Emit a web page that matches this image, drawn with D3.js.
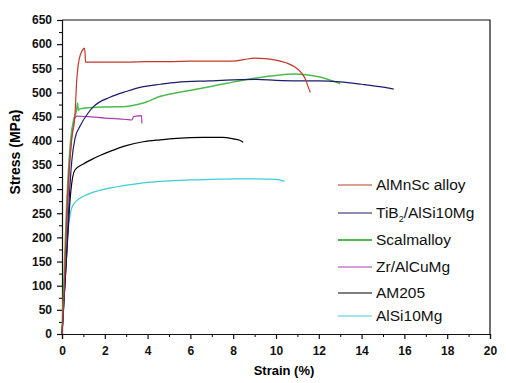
<!DOCTYPE html>
<html lang="en">
<head>
    <meta charset="UTF-8">
    <title>Stress-strain curves</title>
    <script src="https://d3js.org/d3.v7.min.js"></script>
    <style>
        body { margin: 0; background: #fff; }
        text { font-family: "Liberation Sans", Arial, sans-serif; }
    </style>
</head>
<body>

    <div id="chart"></div>

    <script>
        const width = 506, height = 383;
        const margin = {left: 62, right: 16, top: 20, bottom: 49};

        const xTicks = [0, 2, 4, 6, 8, 10, 12, 14, 16, 18, 20];
        const yTicks = [0, 50, 100, 150, 200, 250, 300, 350, 400, 450, 500, 550, 600, 650];

        const seriesNames = ["AlMnSc alloy", "TiB2/AlSi10Mg", "Scalmalloy", "Zr/AlCuMg", "AM205", "AlSi10Mg"];
        const seriesColors = ["#c0392b", "#1c1c6b", "#4dbb4d", "#b03cb0", "#000000", "#3ccfd6"];

        // [strain %, stress MPa]
        const alMnSc = [[0,0],[0.1,90],[0.23,260],[0.45,402],[0.61,457],[0.69,526],[0.76,558],[0.85,577],
            [0.92,585],[1.0,590],[1.05,592],[1.08,580],[1.1,563],
            [2,563],[3,563],[4,564],[5,564],[6,565],[7,565],[8,565],[8.5,568],[9,571],[9.5,570],[10,567],
            [10.5,561],[10.9,552],[11.2,540],[11.4,525],[11.5,512],[11.6,500]];
        const tib2 = [[0,0],[0.2,150],[0.35,290],[0.45,355],[0.61,405],[0.84,430],[1.23,458],[1.46,470],
            [2.24,490],[3,502],[3.8,512],[4.6,517],[5.36,521],[6.9,524],[8,526],[9.1,527],[10,525],
            [11,524],[12,524],[13,522],[14,517],[15,511],[15.5,507]];
        const scalmalloy = [[0,0],[0.2,250],[0.4,400],[0.55,445],[0.65,458],[0.7,470],[0.73,478],[0.76,463],
            [0.84,466],[1.46,469],[2.2,470],[3,471],[3.8,478],[4.6,492],[5.3,499],[6.1,505],[6.9,512],
            [7.7,519],[8.5,526],[9.25,531],[10,535],[10.8,538],[11.5,536],[12.05,532],[12.5,526],[13,518]];
        const zrAlCuMg = [[0,0],[0.15,150],[0.3,300],[0.37,360],[0.45,405],[0.53,432],[0.6,447],[0.7,451],
            [1.2,450],[2,447],[3,444],[3.26,443],[3.35,450],[3.72,452],[3.73,436]];
        const am205 = [[0,0],[0.2,150],[0.4,290],[0.5,325],[0.61,340],[1,352],[1.46,363],[2.24,378],
            [3,390],[3.8,398],[4.6,402],[5.36,405],[6.6,407],[7.5,407],[8,404],[8.3,401],[8.47,397]];
        const alSi10Mg = [[0,0],[0.05,30],[0.15,120],[0.3,220],[0.45,260],[0.6,272],[0.8,280],[1.2,289],
            [2,300],[3,308],[4,314],[5,317],[6,319],[7,320],[8,321],[9,321],[10,320],[10.4,316]];

        const allSeries = [alMnSc, tib2, scalmalloy, zrAlCuMg, am205, alSi10Mg];
        const drawOrder = [5, 4, 3, 2, 1, 0];

        const svg = d3.select("#chart").append("svg")
            .attr("width", width).attr("height", height);

        const x = d3.scaleLinear().domain([0, 20]).range([margin.left, width - margin.right]);
        const y = d3.scaleLinear().domain([0, 650]).range([height - margin.bottom, margin.top]);

        // minor ticks
        svg.append("g")
            .attr("transform", `translate(0,${y(0)})`)
            .call(d3.axisBottom(x).tickValues(d3.range(1, 20, 2)).tickSize(3).tickFormat(""))
            .call(g => g.select(".domain").remove());
        svg.append("g")
            .attr("transform", `translate(${x(0)},0)`)
            .call(d3.axisLeft(y).tickValues(d3.range(25, 650, 50)).tickSize(3).tickFormat(""))
            .call(g => g.select(".domain").remove());

        const xAxis = svg.append("g")
            .attr("transform", `translate(0,${y(0)})`)
            .call(d3.axisBottom(x).tickValues(xTicks).tickSize(5).tickPadding(7).tickFormat(d3.format("d")));
        const yAxis = svg.append("g")
            .attr("transform", `translate(${x(0)},0)`)
            .call(d3.axisLeft(y).tickValues(yTicks).tickSize(5).tickPadding(5).tickFormat(d3.format("d")));

        [xAxis, yAxis].forEach(g => {
            g.selectAll("text").attr("font-size", 12).attr("font-weight", "bold")
                .attr("font-family", "Liberation Sans, Arial, sans-serif").attr("fill", "#111");
            g.selectAll("line").attr("stroke", "#111").attr("stroke-width", 1.2);
            g.select(".domain").attr("stroke", "#111").attr("stroke-width", 1.2);
        });

        // frame top and right
        svg.append("path")
            .attr("d", `M${x(0)},${y(650)}H${x(20)}V${y(0)}`)
            .attr("fill", "none").attr("stroke", "#111").attr("stroke-width", 1.2);

        const line = d3.line()
            .x(d => x(d[0])).y(d => y(d[1]))
            .curve(d3.curveMonotoneX);

        drawOrder.forEach(i => {
            svg.append("path")
                .datum(allSeries[i])
                .attr("d", line)
                .attr("fill", "none")
                .attr("stroke", seriesColors[i])
                .attr("stroke-width", i === 2 ? 1.5 : 1.2);
        });

        // axis titles
        svg.append("text")
            .attr("x", 284).attr("y", 375)
            .attr("text-anchor", "middle")
            .attr("font-size", 13).attr("font-weight", "bold")
            .text("Strain (%)");
        svg.append("text")
            .attr("transform", "translate(20,152) rotate(-90)")
            .attr("text-anchor", "middle")
            .attr("font-size", 14).attr("font-weight", "bold")
            .text("Stress (MPa)");

        // legend
        const legendY = [185, 213, 240, 267, 293, 316];
        const legend = svg.append("g");
        seriesNames.forEach((name, i) => {
            const ly = legendY[i];
            legend.append("line")
                .attr("x1", 338).attr("x2", 372).attr("y1", ly).attr("y2", ly)
                .attr("stroke", seriesColors[i]).attr("stroke-width", i === 2 ? 2 : 1.2);
            const t = legend.append("text")
                .attr("x", 376).attr("y", ly + 5)
                .attr("font-size", 15.5).attr("fill", "#111");
            if (name === "TiB2/AlSi10Mg") {
                t.append("tspan").text("TiB");
                t.append("tspan").attr("font-size", 9).attr("dy", 4).text("2");
                t.append("tspan").attr("dy", -4).text("/AlSi10Mg");
            } else {
                t.text(name);
            }
        });
    </script>

</body>
</html>
